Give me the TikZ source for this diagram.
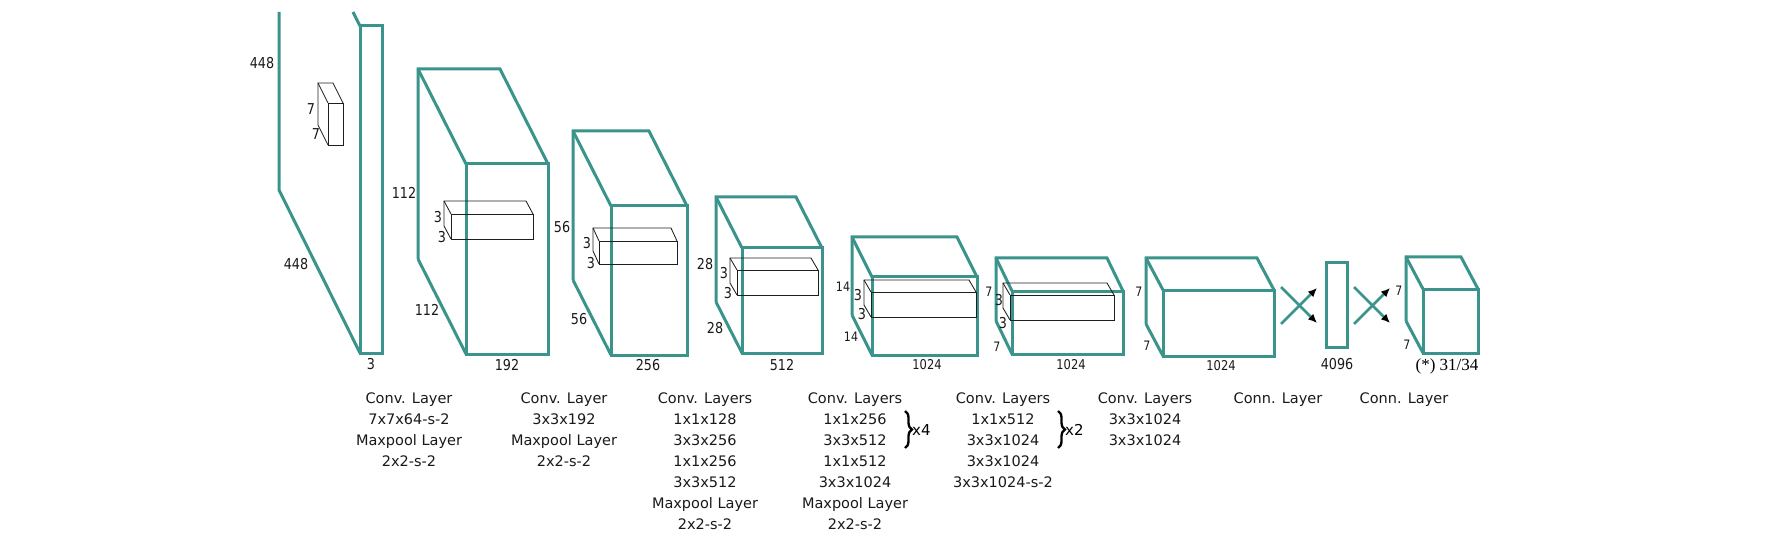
\documentclass[tikz,border=0pt]{standalone}
\usepackage{fontspec}
\setmainfont{DejaVu Sans}
\newfontfamily\capfont{DejaVu Sans}
\newfontfamily\lblfont[FakeStretch=0.85]{DejaVu Sans}
\newfontfamily\serfont{Liberation Serif}
\usetikzlibrary{arrows.meta,decorations.pathreplacing}
\definecolor{tealc}{RGB}{58,148,140}
\definecolor{kerc}{RGB}{30,30,30}
\tikzset{
  blk/.style={draw=tealc,line width=3pt},
  kern/.style={draw=kerc,line width=0.85pt},
  lbl/.style={font=\lblfont\fontsize{15}{15}\selectfont,inner sep=0pt,text=black!90},
  lblk/.style={font=\lblfont\fontsize{15}{15}\selectfont,inner sep=0pt,text=black!90},
  lbls/.style={font=\lblfont\fontsize{13}{13}\selectfont,inner sep=0pt,text=black!90},
  lblm/.style={font=\lblfont\fontsize{13.5}{13.5}\selectfont,inner sep=0pt,text=black!90},
  capn/.style={font=\capfont\fontsize{14.5}{21}\selectfont,align=center,anchor=north,inner sep=0pt,text=black!90},
  conn/.style={draw=tealc,line width=2.6pt,-{Latex[black,length=9pt,width=8pt]}},
  brc/.style={draw=black,line width=2.3pt,decorate,decoration={brace,amplitude=7pt}},
}
% #1 bx, #2 by, #3 dx, #4 dy, #5 w, #6 h, #7 style
\newcommand{\cuboid}[7]{%
  \draw[#7] (#1,#2+#6) -- (#1,#2) -- (#1+#5,#2) -- (#1+#5+#3,#2+#4);
  \draw[#7] (#1,#2) -- (#1+#3,#2+#4);
  \draw[#7] (#1,#2+#6) -- (#1+#3,#2+#4+#6);
  \draw[#7] (#1+#3,#2+#4) rectangle (#1+#3+#5,#2+#4+#6);
}
\begin{document}
\begin{tikzpicture}[x=1pt,y=-1pt]
\useasboundingbox (0,0) rectangle (1765,540);
% block 1 (clipped at top)
\begin{scope}
\clip (0,12) rectangle (1765,540);
\draw[blk] (279,12) -- (279,190) -- (360,353);
\draw[blk] (353,12) -- (360,26);
\draw[blk] (360,26) rectangle (382,353);
\end{scope}
\cuboid{318}{83}{10}{20}{15}{42}{kern}
\node[lbl] (l1a) at (262,63) {448};
\node[lbl] (l1b) at (296,264) {448};
\node[lbl] (l1c) at (371,364) {3};
\node[lblk] (k1a) at (311,109) {7};
\node[lblk] (k1b) at (316,134) {7};
% block 2
\cuboid{418}{69}{48}{95}{82}{190}{blk}
\cuboid{444}{201}{7}{13}{82}{25}{kern}
\node[lbl] (l2a) at (404,193) {112};
\node[lbl] (l2b) at (427,310) {112};
\node[lbl] (l2c) at (507,365) {192};
\node[lblk] (k2a) at (438,217) {3};
\node[lblk] (k2b) at (442,237) {3};
% block 3
\cuboid{573}{131}{38}{75}{76}{149}{blk}
\cuboid{593}{228}{6}{13}{78}{23}{kern}
\node[lbl] (l3a) at (562,227) {56};
\node[lbl] (l3b) at (579,319) {56};
\node[lbl] (l3c) at (648,365) {256};
\node[lblk] (k3a) at (587,243) {3};
\node[lblk] (k3b) at (591,263) {3};
% block 4
\cuboid{716}{197}{26}{51}{80}{105}{blk}
\cuboid{730}{258}{7}{12}{81}{25}{kern}
\node[lbl] (l4a) at (705,264) {28};
\node[lbl] (l4b) at (715,328) {28};
\node[lbl] (l4c) at (782,365) {512};
\node[lblk] (k4a) at (724,273) {3};
\node[lblk] (k4b) at (728,293) {3};
% block 5
\cuboid{852}{237}{20}{40}{105}{78}{blk}
\cuboid{864}{280}{7}{12}{105}{25}{kern}
\node[lbls] (l5a) at (843,287) {14};
\node[lbls] (l5b) at (851,337) {14};
\node[lblm] (l5c) at (927,365) {1024};
\node[lblk] (k5a) at (858,295) {3};
\node[lblk] (k5b) at (862,314) {3};
% block 6
\cuboid{996}{258}{16}{33}{111}{63}{blk}
\cuboid{1003}{283}{7}{12}{104}{25}{kern}
\node[lbls] (l6a) at (989,292) {7};
\node[lbls] (l6b) at (997,347) {7};
\node[lblm] (l6c) at (1071,365) {1024};
\node[lblk] (k6a) at (999,300) {3};
\node[lblk] (k6b) at (1003,323) {3};
% block 7
\cuboid{1146}{258}{17}{32}{111}{66}{blk}
\node[lbls] (l7a) at (1139,292) {7};
\node[lbls] (l7b) at (1147,346) {7};
\node[lblm] (l7c) at (1221,366) {1024};
% connections 1
\coordinate (a1s) at (1281,287); \coordinate (a1e) at (1317,323);
\coordinate (a2s) at (1281,324); \coordinate (a2e) at (1317,288);
\draw[conn] (a1s) -- (a1e);
\draw[conn] (a2s) -- (a2e);
% fc box
\draw[blk] (1326,263) rectangle (1347,347);
\node[lbl] (l8) at (1337,364) {4096};
% connections 2
\coordinate (b1s) at (1354,287); \coordinate (b1e) at (1390,323);
\coordinate (b2s) at (1354,324); \coordinate (b2e) at (1390,288);
\draw[conn] (b1s) -- (b1e);
\draw[conn] (b2s) -- (b2e);
% output block
\cuboid{1406}{257}{17}{32}{55}{64}{blk}
\node[lbls] (l9a) at (1399,291) {7};
\node[lbls] (l9b) at (1407,345) {7};
\node[font=\serfont\fontsize{17}{17}\selectfont,inner sep=0pt] (l9c) at (1447,366) {(*) 31/34};
% captions
\node[capn] (c1) at (409,389) {\strut Conv. Layer\\7x7x64-s-2\\Maxpool Layer\\2x2-s-2};
\node[capn] (c2) at (564,389) {\strut Conv. Layer\\3x3x192\\Maxpool Layer\\2x2-s-2};
\node[capn] (c3) at (705,389) {\strut Conv. Layers\\1x1x128\\3x3x256\\1x1x256\\3x3x512\\Maxpool Layer\\2x2-s-2};
\node[capn] (c4) at (855,389) {\strut Conv. Layers\\1x1x256\\3x3x512\\1x1x512\\3x3x1024\\Maxpool Layer\\2x2-s-2};
\node[capn] (c5) at (1003,389) {\strut Conv. Layers\\1x1x512\\3x3x1024\\3x3x1024\\3x3x1024-s-2};
\node[capn] (c6) at (1145,389) {\strut Conv. Layers\\3x3x1024\\3x3x1024};
\node[capn] (c7) at (1278,389) {\strut Conn. Layer};
\node[capn] (c8) at (1404,389) {\strut Conn. Layer};
% braces
\coordinate (br1t) at (905,411); \coordinate (br1b) at (905,448);
\draw[brc] (br1t) -- (br1b);
\node[font=\capfont\fontsize{15}{15}\selectfont,anchor=west,inner sep=0pt] (x4) at (912,430) {x4};
\coordinate (br2t) at (1058,411); \coordinate (br2b) at (1058,448);
\draw[brc] (br2t) -- (br2b);
\node[font=\capfont\fontsize{15}{15}\selectfont,anchor=west,inner sep=0pt] (x2) at (1065,430) {x2};
\end{tikzpicture}
\end{document}
